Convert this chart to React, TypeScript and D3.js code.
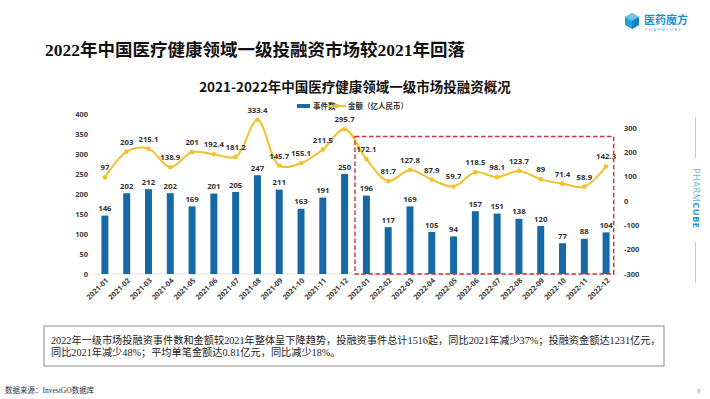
import React from 'react';
import * as d3 from 'd3';

// chart data
const months = [
  '2021-01', '2021-02', '2021-03', '2021-04', '2021-05', '2021-06',
  '2021-07', '2021-08', '2021-09', '2021-10', '2021-11', '2021-12',
  '2022-01', '2022-02', '2022-03', '2022-04', '2022-05', '2022-06',
  '2022-07', '2022-08', '2022-09', '2022-10', '2022-11', '2022-12',
];
const eventCounts = [146, 202, 212, 202, 169, 201, 205, 247, 211, 163, 191, 250,
  196, 117, 169, 105, 94, 157, 151, 138, 120, 77, 88, 104];
const amounts = [97, 203, 215.1, 138.9, 201, 192.4, 181.2, 333.4, 145.7, 155.1, 211.5, 295.7,
  172.1, 81.7, 127.8, 87.9, 59.7, 118.5, 98.1, 123.7, 89, 71.4, 58.9, 142.3];
const leftTicks = [0, 50, 100, 150, 200, 250, 300, 350, 400];
const rightTicks = [-300, -200, -100, 0, 100, 200, 300];

const pageTitle = '2022年中国医疗健康领域一级投融资市场较2021年回落';
const chartTitle = '2021-2022年中国医疗健康领域一级市场投融资概况';
const legendLabels = ['事件数', '金额（亿人民币）'];
const noteLines = [
  '2022年一级市场投融资事件数和金额较2021年整体呈下降趋势，投融资事件总计1516起，同比2021年减少37%；投融资金额达1231亿元，',
  '同比2021年减少48%；平均单笔金额达0.81亿元，同比减少18%。',
];
const sourceText = '数据来源：InvestGO数据库';

const BAR = '#1768a6';
const LINE = '#f2c12e';
const LABEL = '#333333';
const numFont = "'Open Sans', 'Noto Sans CJK SC', sans-serif";
const cjkFont = "'Noto Sans CJK SC', sans-serif";
const serifFont = "'Liberation Serif', 'Noto Sans CJK SC', serif";

export default function App() {
  const width = 710;
  const height = 399;

  const x = d3.scaleBand<string>()
    .domain(months)
    .range([94, 617])
    .paddingInner(0.68)
    .paddingOuter(0.34);
  const yLeft = d3.scaleLinear().domain([0, 400]).range([274, 114]);
  const yRight = d3.scaleLinear().domain([-300, 300]).range([274, 128]);
  const cx = (m: string) => (x(m) as number) + x.bandwidth() / 2;

  const line = d3.line<number>()
    .x((_, i) => cx(months[i]))
    .y(d => yRight(d))
    .curve(d3.curveCatmullRom.alpha(0.5));

  // dashed frame around 2022
  const boxLeft = cx('2022-01') - x.step() / 2 - 0.5;
  const boxRight = cx('2022-12') + x.step() * 0.35;
  const boxTop = yRight(265);
  const boxBottom = yLeft(0);

  return (
    <svg width={width} height={height} style={{ position: 'absolute', left: 0, top: 0, background: '#fff' }}>
      {/* logo */}
      <g>
        <polygon points="632,13 639,17 639,25 632,29 625,25 625,17" fill="#2a9fd6" />
        <polygon points="632,13 639,17 632,21 625,17" fill="#6cc4ea" />
        <polygon points="632,21 639,17 639,25 632,29" fill="#1582bd" />
        <text x={644} y={24} fontFamily={cjkFont} fontWeight={700} fontSize={11} fill="#1f8fcc">医药魔方</text>
        <text x={645} y={30.5} fontFamily={numFont} fontSize={4.2} letterSpacing={1.3} fill="#4aa6d8">PHARMCUBE</text>
      </g>

      {/* page title */}
      <text x={45} y={56} fontFamily={serifFont} fontWeight={700} fontSize={17.5} fill="#111">{pageTitle}</text>

      {/* chart title */}
      <text x={355} y={92} textAnchor="middle" fontFamily={cjkFont} fontWeight={700} fontSize={13.5} fill="#111">{chartTitle}</text>

      {/* legend */}
      <g fontFamily={cjkFont} fontSize={7.5} fill={LABEL} fontWeight={700}>
        <rect x={297} y={104} width={13} height={4} fill={BAR} />
        <text x={313} y={109}>{legendLabels[0]}</text>
        <line x1={328} x2={346} y1={106} y2={106} stroke={LINE} strokeWidth={2} />
        <circle cx={337} cy={106} r={2.3} fill={LINE} />
        <text x={348} y={109}>{legendLabels[1]}</text>
      </g>

      {/* baseline */}
      <line x1={94} x2={617} y1={yLeft(0)} y2={yLeft(0)} stroke="#d9d9d9" strokeWidth={0.8} />

      {/* left axis labels */}
      <g fontFamily={numFont} fontSize={7.5} fontWeight={700} fill="#404040">
        {leftTicks.map(t => (
          <text key={t} x={88} y={yLeft(t) + 2.7} textAnchor="end">{t}</text>
        ))}
      </g>

      {/* right axis labels */}
      <g fontFamily={numFont} fontSize={7.5} fontWeight={700} fill="#404040">
        {rightTicks.map(t => (
          <text key={t} x={624} y={yRight(t) + 2.7}>{t}</text>
        ))}
      </g>

      {/* x labels */}
      <g fontFamily={numFont} fontSize={7.3} fontWeight={700} fill="#404040">
        {months.map(m => (
          <text key={m} textAnchor="end" transform={`translate(${cx(m) + 4},${yLeft(0) + 7}) rotate(-45)`}>{m}</text>
        ))}
      </g>

      {/* bars */}
      {eventCounts.map((v, i) => (
        <rect key={months[i]} x={x(months[i])} y={yLeft(v)} width={x.bandwidth()} height={yLeft(0) - yLeft(v)} fill={BAR} />
      ))}
      <g fontFamily={numFont} fontSize={7.8} fontWeight={700} fill={LABEL} textAnchor="middle">
        {eventCounts.map((v, i) => (
          <text key={months[i]} x={cx(months[i])} y={yLeft(v) - 4.5}>{v}</text>
        ))}
      </g>

      {/* amount line */}
      <path d={line(amounts) || ''} fill="none" stroke={LINE} strokeWidth={2} />
      {amounts.map((v, i) => (
        <circle key={months[i]} cx={cx(months[i])} cy={yRight(v)} r={2.3} fill={LINE} />
      ))}
      <g fontFamily={numFont} fontSize={7.8} fontWeight={700} fill={LABEL} textAnchor="middle">
        {amounts.map((v, i) => (
          <text key={months[i]} x={cx(months[i])} y={yRight(v) - 7}>{v}</text>
        ))}
      </g>

      {/* 2022 frame */}
      <rect x={boxLeft} y={boxTop} width={boxRight - boxLeft} height={boxBottom - boxTop}
        fill="none" stroke="#c8323a" strokeWidth={1.4} strokeDasharray="4.5,2.5" />

      {/* vertical brand */}
      <line x1={695.5} x2={695.5} y1={117} y2={158} stroke="#8fc9e0" strokeWidth={0.8} />
      <line x1={695.5} x2={695.5} y1={242} y2={283} stroke="#8fc9e0" strokeWidth={0.8} />
      <text transform="translate(693,168) rotate(90)" fontFamily={numFont} fontSize={9} letterSpacing={0.6}>
        <tspan fill="#5bb6d8">PHARM</tspan>
        <tspan fill="#1a95c8" fontWeight={700}>CUBE</tspan>
      </text>

      {/* note box */}
      <rect x={44} y={326} width={620} height={40} fill="#fff" stroke="#7f7f7f" strokeWidth={0.9} />
      <g fontFamily={serifFont} fontSize={10.2} fill="#222">
        <text x={51} y={343.5}>{noteLines[0]}</text>
        <text x={51} y={355.5}>{noteLines[1]}</text>
      </g>

      {/* source / page */}
      <text x={5} y={393} fontFamily={serifFont} fontSize={7.5} fill="#333">{sourceText}</text>
      <text x={697} y={393} fontFamily={numFont} fontSize={6} fill="#888">9</text>
    </svg>
  );
}
